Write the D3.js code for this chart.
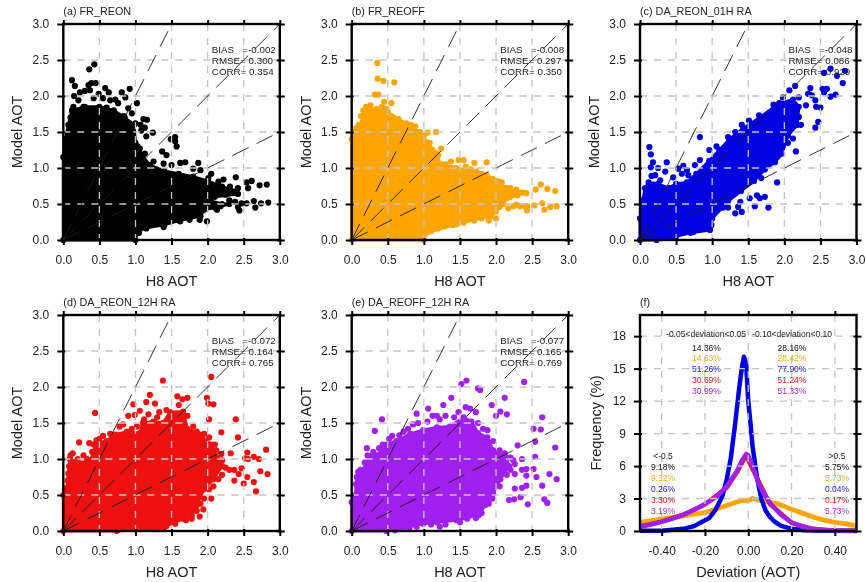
<!DOCTYPE html>
<html>
<head>
<meta charset="utf-8">
<script src="https://cdn.jsdelivr.net/npm/d3@7"></script>
<style>
  html, body { margin: 0; padding: 0; background: #fff; }
  svg { display: block; filter: blur(0.45px); }
  text { font-family: "Liberation Sans", Arial, sans-serif; fill: #222; white-space: pre; }
</style>
</head>
<body>
<div id="grafico"></div>
<script>
// Values
const titles = ["(a) FR_REON", "(b) FR_REOFF", "(c) DA_REON_01H RA", "(d) DA_REON_12H RA", "(e) DA_REOFF_12H RA"];
const bias = ["-0.002", "-0.008", "-0.048", "-0.072", "-0.077"];
const rmse = ["0.300", "0.297", "0.086", "0.164", "0.165"];
const corr = ["0.354", "0.350", "0.929", "0.765", "0.769"];
const scatterColors = ["#000000", "#ffa500", "#0000e0", "#ee1111", "#a020f0"];

// outline of the part of each cloud where the dots merge, [H8, model]
const cloudA = [[0,0],[0,1.15],[0.03,1.4],[0.07,1.6],[0.12,1.8],[0.3,1.85],[0.5,1.85],[0.7,1.8],[0.85,1.7],[0.98,1.6],[1.0,1.35],[1.03,1.3],[1.1,1.16],[1.2,1.04],[1.4,0.96],[1.6,0.92],[1.8,0.88],[2.0,0.82],[2.2,0.74],[2.4,0.68],[2.42,0.64],[2.1,0.6],[2.02,0.55],[2.2,0.5],[2.3,0.5],[2.1,0.45],[1.95,0.42],[1.9,0.33],[1.6,0.27],[1.4,0.21],[1.15,0.17],[1.03,0.12],[1.0,0]];
const cloudB = [[0,0],[0,1.4],[0.05,1.5],[0.12,1.6],[0.18,1.8],[0.35,1.82],[0.48,1.82],[0.58,1.7],[0.76,1.62],[0.95,1.5],[1.04,1.36],[1.18,1.2],[1.22,1.06],[1.45,1.0],[1.73,0.95],[1.87,0.9],[2.0,0.82],[2.15,0.72],[2.38,0.66],[2.3,0.62],[2.15,0.58],[2.1,0.5],[2.0,0.4],[1.92,0.33],[1.45,0.22],[1.04,0.1],[1.0,0]];
const cloudC = [[0,0],[0,0.3],[0.04,0.55],[0.07,0.72],[0.12,0.8],[0.25,0.78],[0.4,0.72],[0.5,0.78],[0.65,0.8],[0.78,0.92],[0.96,1.1],[1.1,1.25],[1.24,1.4],[1.43,1.55],[1.66,1.7],[1.93,1.9],[2.12,1.95],[2.2,1.85],[2.18,1.6],[2.05,1.45],[1.97,1.2],[1.87,1.08],[1.73,0.98],[1.58,0.82],[1.4,0.68],[1.22,0.54],[1.0,0.3],[0.97,0.14],[0.7,0.1],[0.5,0.05],[0.23,0]];
const cloudD = [[0,0],[0,0.5],[0.05,0.6],[0.07,0.8],[0.09,1.0],[0.16,0.96],[0.37,0.96],[0.46,1.22],[0.6,1.25],[0.72,1.34],[0.88,1.38],[1.06,1.36],[1.1,1.5],[1.25,1.52],[1.38,1.5],[1.48,1.65],[1.66,1.66],[1.72,1.42],[1.89,1.34],[2.05,1.2],[2.13,1.02],[2.2,0.9],[2.08,0.72],[1.95,0.58],[1.85,0.36],[1.78,0.22],[1.66,0.17],[1.43,0.07],[1.29,0.04],[0.74,0]];
const cloudE = [[0,0],[0,0.4],[0.05,0.5],[0.07,0.75],[0.14,0.82],[0.25,1.04],[0.35,1.05],[0.48,1.2],[0.62,1.25],[0.81,1.35],[0.99,1.4],[1.18,1.44],[1.36,1.45],[1.55,1.58],[1.66,1.52],[1.75,1.36],[1.88,1.3],[1.96,1.12],[2.14,1.02],[2.18,0.9],[2.06,0.72],[1.96,0.52],[1.85,0.36],[1.76,0.22],[1.45,0.15],[1.18,0.12],[0.99,0.1],[0.72,0.04],[0.48,0]];

// single dots around the clouds, [H8, model]
const dotsA = [[0.12,2.22],[0.36,2.37],[0.43,2.44],[0.92,2.1],[1.02,1.9],[0.16,2.14],[0.35,2.15],[0.39,2.18],[0.45,2.18],[0.15,2.0],[0.23,2.05],[0.3,2.07],[0.37,2.08],[0.49,2.03],[0.58,2.11],[0.63,2.05],[0.81,2.05],[0.86,1.98],[0.72,1.95],[0.65,1.94],[0.55,1.97],[0.14,1.85],[0.21,1.94],[0.42,1.97],[0.9,1.83],[0.95,1.76],[0.76,1.9],[0.1,1.7],[0.28,1.85],[0.6,1.84],[0.7,1.78],[0.84,1.72],[0.5,1.84],[1.0,1.62],[1.11,1.68],[1.16,1.67],[1.07,1.6],[1.13,1.56],[1.08,1.52],[1.24,1.49],[1.15,1.44],[1.49,1.4],[1.55,1.43],[1.55,1.37],[1.57,1.3],[1.37,1.23],[1.43,1.18],[1.06,1.27],[1.13,1.2],[1.25,1.09],[1.39,1.06],[1.5,1.04],[1.62,1.07],[1.69,1.08],[1.87,1.07],[1.8,0.99],[1.9,0.97],[2.05,0.92],[2.01,0.86],[2.15,0.81],[2.22,0.84],[2.39,0.87],[2.31,0.74],[2.42,0.72],[2.54,0.8],[2.61,0.82],[2.56,0.72],[2.72,0.76],[2.82,0.77],[2.38,0.53],[2.47,0.51],[2.54,0.51],[2.64,0.54],[2.74,0.51],[2.84,0.52],[2.42,0.46],[2.44,0.41],[2.66,0.45],[2.13,0.42],[2.18,0.47],[1.99,0.26],[1.89,0.28],[1.75,0.28],[1.62,0.26],[1.39,0.18],[1.15,0.16],[1.05,0.1],[2.3,0.55],[2.25,0.63]];
const dotsB = [[0.355,2.46],[0.36,2.24],[0.44,2.21],[0.59,2.19],[0.32,2.02],[0.37,2.02],[0.45,1.92],[0.55,1.9],[1.05,1.49],[1.17,1.5],[1.24,1.27],[1.375,1.09],[1.48,1.11],[1.55,1.11],[1.7,1.07],[1.87,1.08],[2.05,0.81],[2.62,0.77],[2.55,0.7],[2.71,0.71],[2.82,0.68],[2.43,0.41],[2.43,0.47],[2.64,0.51],[2.67,0.42],[2.53,0.48],[2.84,0.47],[2.75,0.46],[1.9,0.27],[2.0,0.3],[2.1,0.51],[2.17,0.44],[2.24,0.47],[2.33,0.47],[0.02,1.45],[0.06,1.55],[0.1,1.6],[0.13,1.72],[0.16,1.8],[0.2,1.85],[0.26,1.87],[0.3,1.8],[0.42,1.85],[0.5,1.78],[0.55,1.72],[0.65,1.68],[0.7,1.62],[0.82,1.6],[0.88,1.58],[1.0,1.45],[1.08,1.35],[1.12,1.25],[1.2,1.18],[1.3,1.05],[1.38,1.0],[1.58,1.02],[1.65,0.98],[1.8,0.92],[1.95,0.85],[2.08,0.8],[2.2,0.72],[2.28,0.7],[2.35,0.66],[2.42,0.65],[2.2,0.6],[2.0,0.55],[1.1,0.12],[1.2,0.16],[1.3,0.19],[1.4,0.21],[1.55,0.24],[1.7,0.27],[1.8,0.3],[1.95,0.37],[2.0,0.45],[2.05,0.46],[2.28,0.49],[2.4,0.47]];
const dotsC = [[0.13,1.29],[0.15,1.19],[0.18,1.08],[0.15,1.01],[0.25,1.0],[0.37,1.08],[0.35,0.95],[0.21,0.9],[0.16,0.89],[0.28,0.83],[0.46,0.87],[0.53,0.99],[0.6,1.03],[0.65,0.97],[0.58,0.92],[0.67,0.9],[0.76,1.04],[0.83,1.11],[0.96,1.25],[1.06,1.3],[1.22,1.43],[1.32,1.5],[0.83,1.43],[1.41,1.6],[1.51,1.66],[1.65,1.73],[0.99,0.21],[0.95,0.16],[0.74,0.11],[0.48,0.05],[1.15,0.45],[1.22,0.45],[1.32,0.37],[1.41,0.39],[1.36,0.46],[1.59,0.47],[1.78,0.45],[1.39,0.53],[1.52,0.58],[1.66,0.58],[1.73,0.6],[1.62,0.62],[0.99,0.32],[2.07,2.08],[2.15,2.14],[2.36,2.11],[2.38,2.01],[2.33,2.03],[2.43,1.94],[2.3,1.87],[2.5,1.84],[2.44,1.85],[2.47,1.64],[2.43,1.56],[2.55,2.32],[2.64,2.38],[2.73,2.28],[2.84,2.35],[2.81,2.18],[2.53,2.1],[2.59,2.1],[2.71,2.02],[2.64,1.99],[2.55,2.05],[2.2,1.71],[2.23,1.6],[2.16,1.6],[2.12,1.41],[2.16,1.23],[1.9,0.8],[1.68,0.86],[1.98,1.98],[2.2,1.98],[1.85,1.88],[2.05,1.35]];
const dotsD = [[0.44,1.64],[0.22,1.23],[0.36,1.22],[0.46,1.26],[1.38,2.09],[2.05,2.14],[1.99,1.85],[2.01,1.77],[2.08,1.76],[2.02,1.55],[2.39,1.55],[2.42,1.3],[2.19,1.37],[1.2,1.89],[1.27,1.77],[1.15,1.79],[0.97,1.76],[1.06,1.67],[0.9,1.6],[0.99,1.61],[2.55,1.09],[2.81,1.13],[2.32,1.08],[2.19,1.07],[2.52,1.01],[2.56,1.0],[2.64,1.03],[2.71,1.0],[2.37,0.85],[2.43,0.79],[2.47,0.87],[2.73,0.83],[2.83,0.79],[2.37,0.7],[2.5,0.66],[2.55,0.75],[2.64,0.68],[2.67,0.55],[1.94,0.3],[1.89,0.2],[0.03,0.55],[0.06,0.7],[0.08,0.9],[0.1,1.05],[0.13,1.08],[0.2,1.0],[0.28,1.05],[0.33,1.0],[0.4,1.1],[0.42,1.2],[0.5,1.28],[0.55,1.32],[0.65,1.35],[0.68,1.25],[0.78,1.45],[0.83,1.48],[0.95,1.42],[1.02,1.45],[1.12,1.55],[1.18,1.62],[1.3,1.58],[1.33,1.65],[1.43,1.68],[1.58,1.87],[1.6,1.75],[1.72,1.85],[1.65,1.83],[1.72,1.6],[1.8,1.45],[1.85,1.38],[1.95,1.35],[2.02,1.3],[2.1,1.2],[2.12,1.12],[2.2,0.98],[2.25,0.88],[2.3,0.85],[2.2,0.78],[2.15,0.72],[2.08,0.62],[2.02,0.58],[2.05,0.45],[1.95,0.45],[1.9,0.38],[1.85,0.28],[1.78,0.17],[1.7,0.15],[1.55,0.1],[1.4,0.05],[1.33,0.04],[1.2,0.03]];
const dotsE = [[1.52,2.04],[1.59,2.09],[2.39,2.07],[2.12,1.85],[1.75,1.98],[1.78,1.96],[1.94,1.75],[2.06,1.66],[2.15,1.62],[2.0,1.6],[2.64,1.58],[2.52,1.42],[2.62,1.41],[2.54,1.24],[2.3,1.19],[2.82,1.16],[2.54,1.03],[2.36,1.0],[2.26,0.93],[2.36,0.85],[2.42,0.86],[2.52,0.86],[2.74,0.79],[2.84,0.72],[2.26,0.79],[2.42,0.77],[2.56,0.75],[2.64,0.63],[2.42,0.63],[2.36,0.6],[2.26,0.59],[2.18,0.43],[2.25,0.44],[2.34,0.47],[2.44,0.37],[2.67,0.44],[2.71,0.39],[1.38,1.85],[0.42,1.55],[0.32,1.39],[0.21,1.15],[1.27,1.75],[1.06,1.7],[0.9,1.63],[1.18,1.6],[0.03,0.45],[0.06,0.65],[0.09,0.82],[0.12,0.85],[0.18,0.95],[0.22,1.05],[0.3,1.1],[0.38,1.15],[0.43,1.2],[0.52,1.28],[0.56,1.32],[0.66,1.33],[0.72,1.38],[0.78,1.42],[0.85,1.48],[0.92,1.5],[1.05,1.52],[1.12,1.6],[1.22,1.55],[1.3,1.6],[1.42,1.58],[1.48,1.65],[1.58,1.72],[1.64,1.7],[1.72,1.65],[1.75,1.5],[1.82,1.42],[1.88,1.4],[1.96,1.25],[2.05,1.12],[2.12,1.08],[2.2,1.02],[2.24,0.98],[2.2,0.85],[2.15,0.78],[2.05,0.62],[1.95,0.45],[1.9,0.38],[1.8,0.25],[1.72,0.18],[1.6,0.17],[1.5,0.12],[1.3,0.09],[1.22,0.06],[1.1,0.09],[0.9,0.06],[0.8,0.04],[0.6,0.01]];

const clouds = [cloudA, cloudB, cloudC, cloudD, cloudE];
const dots = [dotsA, dotsB, dotsC, dotsD, dotsE];

// reference lines y = 2x, y = x, y = 0.5x
const refLines = [[[0,0],[1.45,2.9]], [[0,0],[3,3]], [[0,0],[2.9,1.45]]];

const aotTicks = [0, 0.5, 1, 1.5, 2, 2.5, 3];
const devTicks = [-0.4, -0.2, 0, 0.2, 0.4];
const freqTicks = [0, 3, 6, 9, 12, 15, 18];

// panel (f)
const devBlue = [[-0.5,0.02],[-0.4,0.03],[-0.3,0.2],[-0.25,0.45],[-0.2,1.0],[-0.18,1.2],[-0.15,2.0],[-0.12,3.2],[-0.1,4.7],[-0.08,6.8],[-0.06,10],[-0.04,13.5],[-0.03,15],[-0.02,16.1],[-0.01,15.5],[0,12],[0.01,10],[0.02,7.8],[0.04,5],[0.06,3],[0.08,1.9],[0.1,1.3],[0.12,0.9],[0.15,0.5],[0.2,0.2],[0.25,0.1],[0.3,0.05],[0.4,0.02],[0.5,0.01]];
const devPurple = [[-0.5,0.4],[-0.45,0.6],[-0.4,0.85],[-0.35,1.15],[-0.3,1.5],[-0.25,1.95],[-0.2,2.5],[-0.15,3.1],[-0.1,4.1],[-0.07,5],[-0.05,5.6],[-0.03,6.5],[-0.01,7.1],[0,7.0],[0.01,6.5],[0.03,5.4],[0.05,4.3],[0.08,3.2],[0.1,2.6],[0.15,1.5],[0.2,0.8],[0.25,0.4],[0.3,0.2],[0.35,0.1],[0.4,0.05],[0.5,0.02]];
const devRed = [[-0.5,0.42],[-0.4,0.87],[-0.3,1.5],[-0.2,2.45],[-0.1,4.0],[-0.05,5.5],[-0.01,7.0],[0.03,5.3],[0.1,2.5],[0.2,0.75],[0.3,0.18],[0.4,0.05],[0.5,0.02]];
const devOrange = [[-0.5,0.8],[-0.45,0.95],[-0.4,1.1],[-0.35,1.25],[-0.3,1.4],[-0.25,1.55],[-0.2,1.7],[-0.15,2.0],[-0.1,2.35],[-0.05,2.7],[-0.03,2.8],[0,2.8],[0.02,3.0],[0.05,2.85],[0.1,2.65],[0.14,2.5],[0.2,2.0],[0.25,1.65],[0.3,1.3],[0.35,1.0],[0.4,0.8],[0.45,0.65],[0.5,0.5]];
const devBlack = [[-0.5,0.85],[-0.4,1.2],[-0.3,1.45],[-0.2,1.72],[-0.15,2.05],[-0.1,2.42],[-0.05,2.75],[0,2.85],[0.05,2.9],[0.1,2.72],[0.14,2.58],[0.2,2.1],[0.25,1.74],[0.3,1.38],[0.35,1.08],[0.4,0.86],[0.45,0.7],[0.5,0.55]];
const devSeries = [devBlack, devOrange, devRed, devBlue, devPurple];
const devColors = ["#000000", "#ffa500", "#ee1111", "#0000e0", "#a020f0"];
const devWidths = [1.5, 4.8, 4.5, 4.5, 4.5];

const midLabel = ["-0.05<deviation<0.05", "-0.10<deviation<0.10"];
const midColA = ["14.36%", "14.63%", "51.26%", "30.69%", "30.99%"];
const midColB = ["28.16%", "28.42%", "77.90%", "51.24%", "51.33%"];
const lowCol = ["9.18%", "9.32%", "0.26%", "3.30%", "3.19%"];
const highCol = ["5.75%", "5.73%", "0.04%", "0.17%", "5.73%"];
const textColors = ["#111111", "#f0a820", "#2020c8", "#d81820", "#a828e0"];

/**************************************************
 * Layout
***************************************************/
const width = 866;
const height = 582;
const panelW = 216.5;
const panelH = 216;
const lefts = [63.3, 351.7, 640];
const tops = [24, 315];
const dotR = 3.1;

const svg = d3.select("#grafico")
    .append("svg")
    .attr("width", width)
    .attr("height", height)
    .style("background", "#fff");

// draws the grid, frame and ticks on top of whatever is already in g
function frame(g, xScale, yScale, xTicks, yTicks, xFormat, yFormat) {
    const grid = g.append("g");
    grid.selectAll(".gx").data(xTicks.filter(d => d > xScale.domain()[0] && d < xScale.domain()[1])).enter()
        .append("line")
        .attr("x1", d => xScale(d)).attr("x2", d => xScale(d))
        .attr("y1", 0).attr("y2", panelH);
    grid.selectAll(".gy").data(yTicks.filter(d => d > yScale.domain()[0] && d < yScale.domain()[1])).enter()
        .append("line")
        .attr("y1", d => yScale(d)).attr("y2", d => yScale(d))
        .attr("x1", 0).attr("x2", panelW);
    grid.selectAll("line")
        .attr("stroke", "#c4c4c4")
        .attr("stroke-width", 1.3)
        .attr("stroke-dasharray", "7,7");

    g.append("rect")
        .attr("width", panelW).attr("height", panelH)
        .attr("fill", "none").attr("stroke", "#000").attr("stroke-width", 2.4);

    const bottom = g.append("g").attr("transform", `translate(0,${panelH})`)
        .call(d3.axisBottom(xScale).tickValues(xTicks).tickSize(5).tickPadding(10).tickFormat(xFormat));
    const left = g.append("g")
        .call(d3.axisLeft(yScale).tickValues(yTicks).tickSize(6).tickPadding(8).tickFormat(yFormat));
    const top = g.append("g")
        .call(d3.axisTop(xScale).tickValues(xTicks).tickSize(4).tickFormat(""));
    const right = g.append("g").attr("transform", `translate(${panelW},0)`)
        .call(d3.axisRight(yScale).tickValues(yTicks).tickSize(5).tickFormat(""));

    // ticks cross the frame on the right and bottom
    bottom.selectAll(".tick line").attr("y1", -2);
    left.selectAll(".tick line").attr("x1", 2);
    right.selectAll(".tick line").attr("x1", -3);

    [bottom, left, top, right].forEach(ax => {
        ax.select(".domain").remove();
        ax.selectAll(".tick line").attr("stroke", "#000").attr("stroke-width", 2);
        ax.selectAll(".tick text")
            .style("font-size", "12px")
            .style("font-family", "'Liberation Sans', Arial, sans-serif")
            .style("fill", "#222");
    });
}

function labels(g, title, xTitle, yTitle, yTitleX) {
    g.append("text").attr("x", 0).attr("y", -9).style("font-size", "10.8px").text(title);
    g.append("text")
        .attr("x", panelW / 2).attr("y", panelH + 46)
        .attr("text-anchor", "middle").style("font-size", "14.5px").text(xTitle);
    g.append("text")
        .attr("transform", `translate(${yTitleX},${panelH / 2}) rotate(-90)`)
        .attr("text-anchor", "middle").style("font-size", "14.5px").text(yTitle);
}

/**************************************************
 * Scatter panels (a) to (e)
***************************************************/
const xAot = d3.scaleLinear().domain([0, 3]).range([0, panelW]);
const yAot = d3.scaleLinear().domain([0, 3]).range([panelH, 0]);
const pathAot = d3.line().x(d => xAot(d[0])).y(d => yAot(d[1]));
const fmt1 = d3.format(".1f");

titles.forEach((title, i) => {
    const g = svg.append("g")
        .attr("transform", `translate(${lefts[i % 3]},${tops[Math.floor(i / 3)]})`);
    const color = scatterColors[i];

    g.append("path")
        .attr("d", pathAot(clouds[i]) + "Z")
        .attr("fill", color)
        .attr("stroke", color)
        .attr("stroke-width", 3)
        .attr("stroke-linejoin", "round");

    // the outline points and the lone dots are all drawn as dots
    g.selectAll(".dot")
        .data(clouds[i].concat(dots[i]))
        .enter()
        .append("circle")
        .attr("class", "dot")
        .attr("cx", d => xAot(d[0]))
        .attr("cy", d => yAot(d[1]))
        .attr("r", dotR)
        .attr("fill", color);

    frame(g, xAot, yAot, aotTicks, aotTicks, fmt1, fmt1);

    refLines.forEach(r => {
        g.append("path")
            .attr("d", pathAot(r))
            .attr("fill", "none")
            .attr("stroke", "#1c1c1c")
            .attr("stroke-width", 0.9)
            .attr("stroke-dasharray", "18,9");
    });

    labels(g, title, "H8 AOT", "Model AOT", -41);

    const stats = [`BIAS   =${bias[i]}`, `RMSE= ${rmse[i]}`, `CORR= ${corr[i]}`];
    g.selectAll(".stat").data(stats).enter()
        .append("text")
        .attr("class", "stat")
        .attr("x", 148.5)
        .attr("y", (d, k) => 29 + k * 11)
        .style("font-size", "9.8px")
        .text(d => d);
});

/**************************************************
 * Panel (f)
***************************************************/
const gf = svg.append("g").attr("transform", `translate(${lefts[2]},${tops[1]})`);
const xDev = d3.scaleLinear().domain([-0.5, 0.5]).range([0, panelW]);
const yFreq = d3.scaleLinear().domain([0, 19.95]).range([panelH, 0]);
const pathDev = d3.line().x(d => xDev(d[0])).y(d => yFreq(d[1]));

devSeries.forEach((s, i) => {
    gf.append("path")
        .attr("d", pathDev(s))
        .attr("fill", "none")
        .attr("stroke", devColors[i])
        .attr("stroke-width", devWidths[i])
        .attr("stroke-linejoin", "round");
});

// d3.format gives a real minus sign, the picture has a hyphen
const fmtDev = d => d3.format(".2f")(d).replace("\u2212", "-");
frame(gf, xDev, yFreq, devTicks, freqTicks, fmtDev, d3.format("d"));
labels(gf, "(f)", "Deviation (AOT)", "Frequency (%)", -39);

function column(x, yStart, step, head, rows) {
    gf.append("text").attr("x", x).attr("y", yStart - step)
        .attr("text-anchor", "middle").style("font-size", "8.5px").text(head);
    gf.selectAll(null).data(rows).enter()
        .append("text")
        .attr("x", x)
        .attr("y", (d, k) => yStart + k * step)
        .attr("text-anchor", "middle")
        .style("font-size", "8.5px")
        .style("fill", (d, k) => textColors[k])
        .text(d => d);
}

column(66.5, 35.7, 10.7, "", midColA);
column(152, 35.7, 10.7, "", midColB);
gf.append("text").attr("x", 66).attr("y", 22).attr("text-anchor", "middle").style("font-size", "8.5px").text(midLabel[0]);
gf.append("text").attr("x", 152).attr("y", 22).attr("text-anchor", "middle").style("font-size", "8.5px").text(midLabel[1]);
column(23, 155, 10.9, "<-0.5", lowCol);
column(197, 155, 10.9, ">0.5", highCol);
</script>
</body>
</html>
